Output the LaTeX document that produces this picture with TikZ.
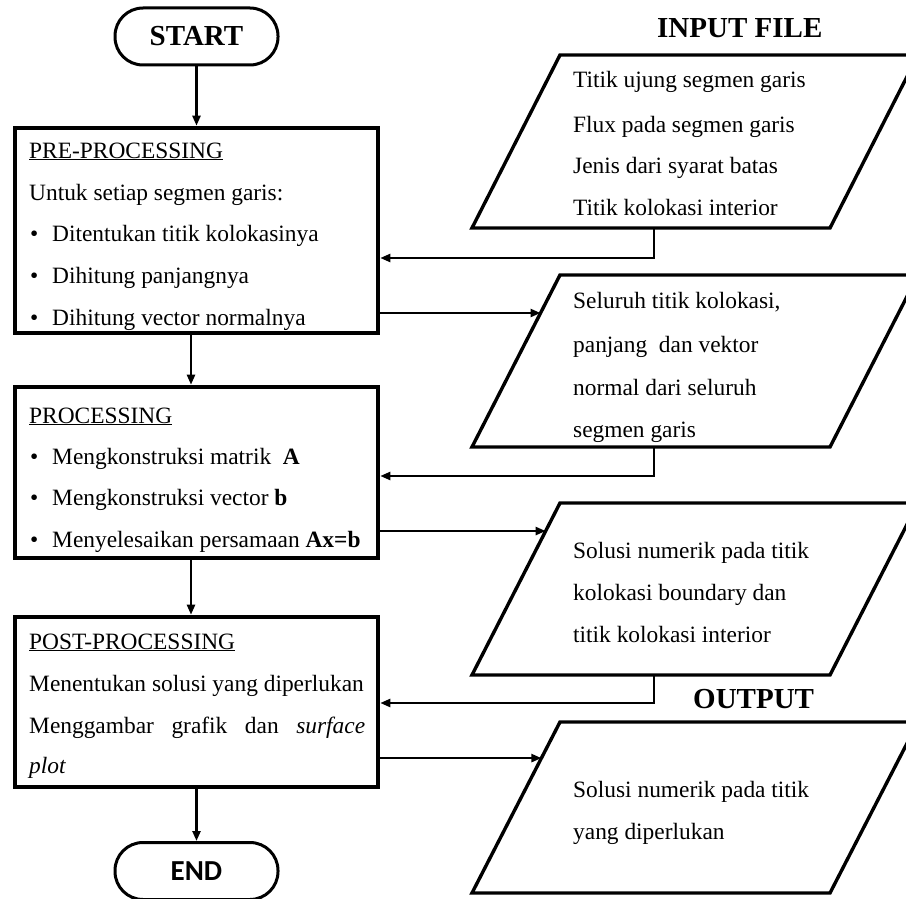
\documentclass[tikz,border=0pt]{standalone}
\usepackage{fontspec}
\setmainfont{Liberation Serif}
\newfontfamily\endfont{Carlito}
\usetikzlibrary{calc,arrows.meta}
\begin{document}
\begin{tikzpicture}[x=1pt,y=-1pt,
  box/.style={draw,line width=4.6pt,minimum width=363pt,inner sep=0pt},
  term/.style={draw,line width=3pt,rounded corners=28pt,minimum width=163pt,minimum height=57pt,inner sep=0pt},
  conn/.style={line width=2.3pt},
  arr/.style={conn,-{Triangle[length=10pt,width=8pt]}},
  para/.style={line width=3.4pt,line join=miter},
  txt/.style={anchor=base west,inner sep=0pt,font=\fontsize{23.4}{26}\selectfont},
  ttl/.style={anchor=base west,inner sep=0pt,font=\fontsize{29}{32}\selectfont\bfseries}]
\useasboundingbox (0,0) rectangle (906,899);

% terminals
\node[term,font=\fontsize{29}{32}\selectfont\bfseries] (start) at (196.5,36.5) {START};
\node[term,font=\fontsize{29}{32}\endfont\bfseries] (end) at (196.5,871) {END};

% process boxes
\node[box,minimum height=205pt] (b1) at (196.5,230.5) {};
\node[box,minimum height=171pt] (b2) at (196.5,472.5) {};
\node[box,minimum height=170pt] (b3) at (196.5,702) {};

% box 1 text
\node[txt] (t11) at (29,158) {\underline{PRE-PROCESSING}};
\node[txt] (t12) at (29,200) {Untuk setiap segmen garis:};
\node[txt] (u11) at (30,241) {•};
\node[txt] (t13) at (52,241) {Ditentukan titik kolokasinya};
\node[txt] (u12) at (30,283) {•};
\node[txt] (t14) at (52,283) {Dihitung panjangnya};
\node[txt] (u13) at (30,325) {•};
\node[txt] (t15) at (52,325) {Dihitung vector normalnya};

% box 2 text
\node[txt] (t21) at (29,423) {\underline{PROCESSING}};
\node[txt] (u21) at (30,464) {•};
\node[txt] (t22) at (52,464) {Mengkonstruksi matrik \ \textbf{A}};
\node[txt] (u22) at (30,505) {•};
\node[txt] (t23) at (52,505) {Mengkonstruksi vector \textbf{b}};
\node[txt] (u23) at (30,547) {•};
\node[txt] (t24) at (52,547) {Menyelesaikan persamaan \textbf{Ax=b}};

% box 3 text
\node[txt] (t31) at (29,649) {\underline{POST-PROCESSING}};
\node[txt] (t32) at (29,691) {Menentukan solusi yang diperlukan};
\node[txt] (t33) at (29,733) {\makebox[336pt][s]{Menggambar grafik dan \textit{surface}}};
\node[txt] (t34) at (29,773) {\textit{plot}};

% titles
\node[ttl] (tin) at (657,38) {INPUT FILE};
\node[ttl] (tout) at (693,708) {OUTPUT};

% parallelograms
\foreach \n/\T/\B in {1/55/228, 2/275/447, 3/503/675, 4/722/893}{
  \coordinate (p\n tl) at (560,\T);
  \coordinate (p\n tr) at (918,\T);
  \coordinate (p\n br) at (830,\B);
  \coordinate (p\n bl) at (472,\B);
  \draw[para] (p\n tl) -- (p\n tr) -- (p\n br) -- (p\n bl) -- cycle;
}

% parallelogram texts
\node[txt] (a1) at (573,88) {Titik ujung segmen garis};
\node[txt] (a2) at (573,132) {Flux pada segmen garis};
\node[txt] (a3) at (573,173) {Jenis dari syarat batas};
\node[txt] (a4) at (573,215) {Titik kolokasi interior};

\node[txt] (c1) at (573,308) {Seluruh titik kolokasi,};
\node[txt] (c2) at (573,352) {panjang \ dan vektor};
\node[txt] (c3) at (573,395) {normal dari seluruh};
\node[txt] (c4) at (573,437) {segmen garis};

\node[txt] (d1) at (573,558) {Solusi numerik pada titik};
\node[txt] (d2) at (573,600) {kolokasi boundary dan};
\node[txt] (d3) at (573,642) {titik kolokasi interior};

\node[txt] (e1) at (573,797) {Solusi numerik pada titik};
\node[txt] (e2) at (573,839) {yang diperlukan};

% main flow
\draw[arr] (start.south) -- (start.south |- b1.north);
\draw[arr] ([xshift=-5.5pt]b1.south) -- ([xshift=-5.5pt]b2.north);
\draw[arr] ([xshift=-5.5pt]b2.south) -- ([xshift=-5.5pt]b3.north);
\draw[arr] (b3.south) -- (end.north);

% inputs into boxes
\coordinate (p1b) at ($(p1bl)!0.508!(p1br)$);
\coordinate (p2b) at ($(p2bl)!0.508!(p2br)$);
\coordinate (p3b) at ($(p3bl)!0.508!(p3br)$);
\draw[arr] (p1b) -- ++(0,30) coordinate (k1) -- (k1 -| b1.east);
\draw[arr] (p2b) -- ++(0,29) coordinate (k2) -- (k2 -| b2.east);
\draw[arr] (p3b) -- ++(0,28) coordinate (k3) -- (k3 -| b3.east);

% outputs from boxes
\coordinate (o1) at ($(p2tl)!0.221!(p2bl)$);
\coordinate (o2) at ($(p3tl)!0.163!(p3bl)$);
\coordinate (o3) at ($(p4tl)!0.211!(p4bl)$);
\draw[arr] (o1 -| b1.east) -- (o1);
\draw[arr] (o2 -| b2.east) -- (o2);
\draw[arr] (o3 -| b3.east) -- (o3);
\end{tikzpicture}
\end{document}
